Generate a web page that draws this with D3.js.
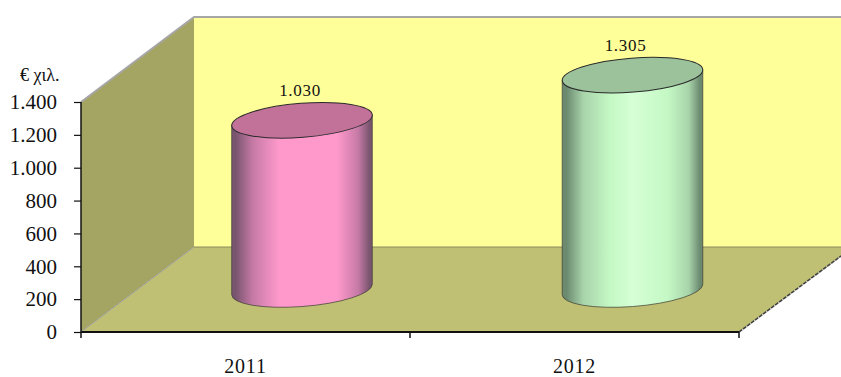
<!DOCTYPE html>
<html><head><meta charset="utf-8">
<script src="https://cdn.jsdelivr.net/npm/d3@7"></script>
<style>html,body{margin:0;padding:0;background:#fff}svg{display:block}text{font-family:"Liberation Serif",serif;fill:#111}</style>
</head><body><svg id="c" width="841" height="377"></svg>
<script>
const categories = ["2011","2012"];
const values = [1030,1305];
const valueLabels = ["1.030","1.305"];
const tickValues = [0,200,400,600,800,1000,1200,1400];
const tickLabels = ["0","200","400","600","800","1.000","1.200","1.400"];
const bodyColors = [["#7a5570","#c67aa6","#ff99cc"],["#6b8a70","#a8d4aa","#c4f8c4","#d6ffd6"]];
const lidColors = ["#c27299","#9cc29c"];

const svg = d3.select("#c");
const x = d3.scaleBand().domain(categories).range([81,739]);
const y = d3.scaleLinear().domain([0,1400]).range([332,102]);
const dx = 113, dy = 85;
const x0 = x.range()[0], x1 = x.range()[1], y0 = y(0), yT = y(1400);
const poly = (pts,fill,stroke,sw)=>svg.append("path").attr("d",d3.line()(pts)+"Z").attr("fill",fill).attr("stroke",stroke||"none").attr("stroke-width",sw||0);

// back wall, side wall, floor
poly([[x0+dx,yT-dy],[841,yT-dy],[841,y0-dy],[x0+dx,y0-dy]],"#ffff99");
poly([[x0,yT],[x0+dx,yT-dy],[x0+dx,y0-dy],[x0,y0]],"#a5a563");
poly([[x0,y0],[x0+dx,y0-dy],[841,y0-dy],[841,256],[x1,y0]],"#c0c075");
svg.append("path").attr("d",d3.line()([[x0,yT],[x0+dx,yT-dy],[841,yT-dy]])).attr("fill","none").attr("stroke","#a6a6a6").attr("stroke-width",2);
svg.append("path").attr("d",d3.line()([[x0,y0],[x0+dx,y0-dy]])).attr("fill","none").attr("stroke","#a0a0a0").attr("stroke-width",1);
svg.append("path").attr("d",d3.line()([[x0+dx,y0-dy],[841,y0-dy]])).attr("fill","none").attr("stroke","#8a8a5c").attr("stroke-width",1);
svg.append("path").attr("d",d3.line()([[x1,y0],[841,256]])).attr("fill","none").attr("stroke","#444").attr("stroke-width",1.6).attr("stroke-dasharray","4 1");

// cylinders
const defs = svg.append("defs");
const rx = 70.5, ry = 17, rot = -4.5*Math.PI/180;
const tE = Math.atan(-(ry/rx)*Math.tan(rot));
const ex = rx*Math.cos(tE)*Math.cos(rot)-ry*Math.sin(tE)*Math.sin(rot);
const ey = rx*Math.cos(tE)*Math.sin(rot)+ry*Math.sin(tE)*Math.cos(rot);
const rotDeg = rot*180/Math.PI;
const labelShift = [-2,-7];
const bandShift = 1.5;
categories.forEach((c,i)=>{
  const cx = x(c)+x.bandwidth()/2+dx/2+i*bandShift;
  const by = y(0)-dy/2;
  const ty = by-(y(0)-y(values[i]));
  const g = defs.append("linearGradient").attr("id","g"+i);
  const cs = bodyColors[i];
  const hi = cs[3]||cs[2];
  [[0,cs[0]],[.03,cs[0]],[.15,cs[1]],[.34,cs[2]],[.5,hi],[.75,cs[2]],[.9,cs[1]],[.98,cs[0]],[1,cs[0]]]
    .forEach(s=>g.append("stop").attr("offset",s[0]).attr("stop-color",s[1]));
  svg.append("path")
    .attr("d",`M${cx-ex},${ty-ey}L${cx-ex},${by-ey}A${rx},${ry} ${rotDeg} 0 0 ${cx+ex},${by+ey}L${cx+ex},${ty+ey}Z`)
    .attr("fill",`url(#g${i})`).attr("stroke","#3a3a30").attr("stroke-width",.7);
  svg.append("ellipse").attr("rx",rx).attr("ry",ry)
    .attr("transform",`translate(${cx},${ty}) rotate(${rotDeg})`)
    .attr("fill",lidColors[i]).attr("stroke","#2a2a2a").attr("stroke-width",1);
  svg.append("text").attr("x",cx+labelShift[i]).attr("y",ty-24).attr("text-anchor","middle")
    .attr("font-size",17).attr("letter-spacing",.7).text(valueLabels[i]);
});

// axes
const ay = svg.append("g").attr("transform",`translate(${x0},0)`)
  .call(d3.axisLeft(y).tickValues(tickValues).tickFormat((d,i)=>tickLabels[i]).tickSize(7).tickPadding(17));
const ax = svg.append("g").attr("transform",`translate(0,${y0})`)
  .call(d3.axisBottom(x).tickValues([]).tickSize(0).tickFormat(""));
[...x.domain().map(d=>x(d)),x1].forEach(v=>ax.append("line").attr("x1",v).attr("x2",v).attr("y1",0).attr("y2",6).attr("stroke","#111").attr("stroke-width",1.5));
ay.selectAll("path").attr("stroke","#111").attr("stroke-width",1.5).attr("d",`M0,${yT}V${y0}`);
ax.selectAll("path").attr("stroke","#111").attr("stroke-width",2).attr("d",`M${x0},0H${x1}`);
ay.selectAll("line").attr("stroke","#111").attr("stroke-width",1.2);
ay.selectAll("text").attr("font-size",21).style("font-family",'"Liberation Serif",serif').attr("fill","#111");
categories.forEach(c=>{
  svg.append("text").attr("x",x(c)+x.bandwidth()/2).attr("y",372.7).attr("text-anchor","middle")
    .attr("font-size",20).attr("letter-spacing",.8).text(c);
});
svg.append("text").attr("x",20).attr("y",81).attr("font-size",18).text("€ χιλ.");
</script></body></html>
